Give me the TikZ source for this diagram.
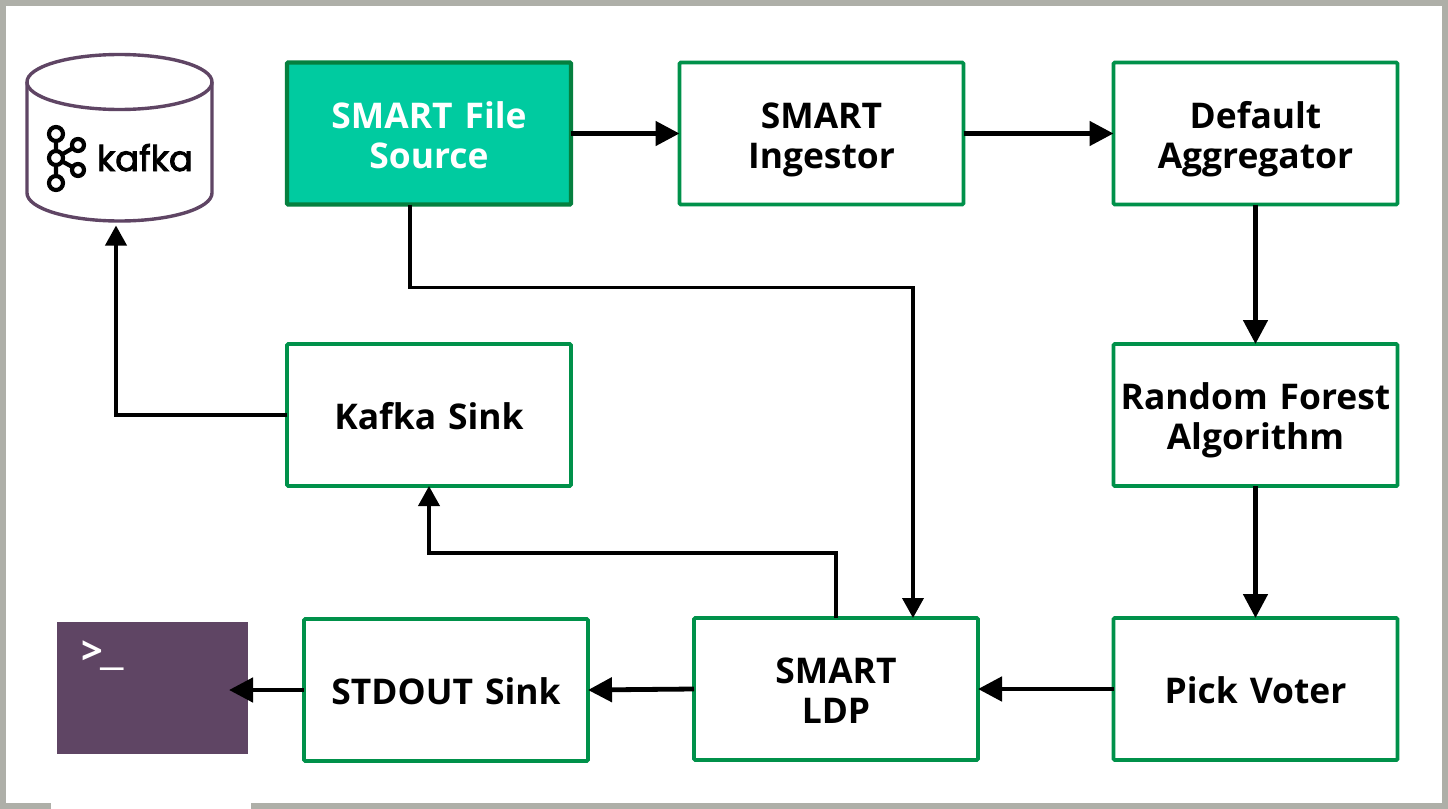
\documentclass[tikz,border=0pt]{standalone}
\usepackage{graphicx}
\usepackage{fontspec}
\setmainfont[WordSpace=1.3]{Open Sans}
\newfontfamily\logofont[FakeBold=2.5]{Poppins}
\usetikzlibrary{arrows.meta,calc}
\definecolor{frameg}{HTML}{AEAFA8}
\definecolor{boxg}{HTML}{00914A}
\definecolor{srcfill}{HTML}{00CBA0}
\definecolor{srcedge}{HTML}{05803F}
\definecolor{plum}{HTML}{5F4564}
\lineskiplimit=-30pt
\newcommand{\st}{\rule[-5pt]{0pt}{24.5pt}}
\tikzset{
  x=0.5pt,y=-0.5pt,
  flowbox/.style={draw=boxg,line width=1.9pt,rounded corners=0.6pt,fill=white,minimum width=142pt,minimum height=71pt,inner sep=0pt,outer sep=0pt,align=center,font=\fontsize{17.7pt}{20pt}\selectfont\bfseries,text=black},
  srcbox/.style={flowbox,draw=srcedge,line width=2.2pt,fill=srcfill,text=white},
  thick arrow/.style={line width=2.4pt,-{Triangle[length=12pt,width=12pt]}},
  thin arrow/.style={line width=1.9pt,-{Triangle[length=10pt,width=10.5pt]}},
  ghost/.style={inner sep=0pt,outer sep=0pt},
  logoring/.style={draw=black,line width=2.1pt,fill=white},
}
\begin{document}
\begin{tikzpicture}
\useasboundingbox (0,0) rectangle (1448,809);
\fill[white] (0,0) rectangle (1448,809);
\draw[frameg,line width=3pt] (3,3) rectangle (1445,806);
\fill[white] (51,803) rectangle (251,809);
% cylinder
\node[ghost,minimum width=93pt,minimum height=85pt] (db) at (119,137.5) {};
\draw[plum,line width=1.7pt,fill=white] (27,82) -- (27,193) arc[x radius=92.5,y radius=28,start angle=180,end angle=0] -- (212,82);
\draw[plum,line width=1.7pt,fill=white] (119.5,82) ellipse[x radius=92.5,y radius=27.5];
% kafka logo
\draw[black,line width=2.1pt] (56,134) -- (56,183) (56,158) -- (78,145) (56,158) -- (78,170);
\foreach \cx/\cy/\r in {56/134/7,56/158/7,56/183/7,78/145/6,78/170/6}
  \draw[logoring] (\cx,\cy) circle[radius=\r];
\node[ghost,anchor=base west,font=\logofont\fontsize{17.7pt}{20pt}\selectfont] (kafkaword) at (97,171) {kafka};
% terminal
\node[ghost,fill=plum,minimum width=95.5pt,minimum height=66pt] (term) at (152.5,688) {};
\node[ghost,anchor=base west,text=white,font=\fontsize{19pt}{22pt}\selectfont\bfseries] (prompt) at (82,664) {>\kern-1.5pt\scalebox{1.5}[1]{\_}};
% boxes
\node[srcbox] (src) at (429,133.5) {\st SMART File\\\st Source};
\node[flowbox] (ing) at (821.5,133.5) {\st SMART\\\st Ingestor};
\node[flowbox] (agg) at (1255.5,133.5) {\st Default\\\st Aggregator};
\node[flowbox] (rf) at (1255.5,415) {\st Random Forest\\\st Algorithm};
\node[flowbox] (voter) at (1255.5,689) {\st Pick Voter};
\node[flowbox] (ldp) at (836,689) {\st SMART\\\st LDP};
\node[flowbox] (stdout) at (446,690) {\st STDOUT Sink};
\node[flowbox] (ksink) at (429,415) {\st Kafka Sink};
% connectors
\draw[thick arrow] (src.east) -- (ing.west);
\draw[thick arrow] (ing.east) -- (agg.west);
\draw[thick arrow] (agg.south) -- (rf.north);
\draw[thick arrow] (rf.south) -- (voter.north);
\draw[thick arrow] (voter.west) -- (ldp.east);
\draw[thick arrow] (ldp.west) -- (stdout.east);
\draw[thick arrow] (stdout.west) -- ($(term.east)+(-19,2)$);
\draw[thin arrow] ($(src.south)+(-19,0)$) -- ++(0,83) -| ($(ldp.north)+(77,0)$);
\draw[thin arrow] (ldp.north) -- ++(0,-65) -| (ksink.south);
\draw[thin arrow] (ksink.west) -| ($(db.south)+(-3,3)$);
\end{tikzpicture}
\end{document}
